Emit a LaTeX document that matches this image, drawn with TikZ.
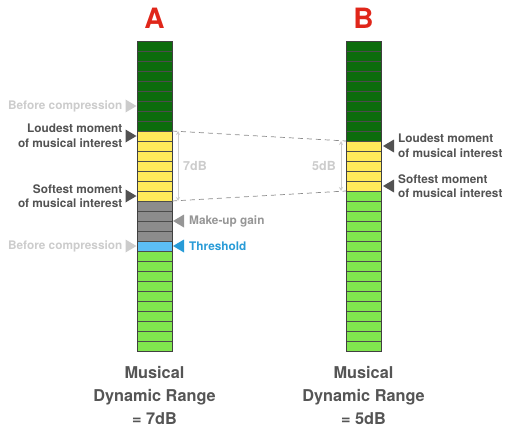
\documentclass[tikz,border=0pt]{standalone}
\usepackage{fontspec}
\setmainfont{TeX Gyre Heros}
\usetikzlibrary{arrows.meta,positioning,shapes.geometric,calc}

\definecolor{dkgreen}{RGB}{12,108,12}
\definecolor{ltgreen}{RGB}{128,230,78}
\definecolor{cellyellow}{RGB}{255,234,90}
\definecolor{cellgray}{RGB}{140,140,140}
\definecolor{cellblue}{RGB}{92,190,245}
\definecolor{labelgray}{RGB}{82,82,82}
\definecolor{palegray}{RGB}{204,204,204}
\definecolor{midgray}{RGB}{150,150,150}
\definecolor{threshblue}{RGB}{40,155,215}
\definecolor{titlered}{RGB}{224,38,26}
\definecolor{rangegray}{RGB}{85,85,85}

\begin{document}
\begin{tikzpicture}[x=1pt, y=-1pt,
  cell/.style={draw=black!70, line width=0.6pt, minimum width=35pt, minimum height=10pt, inner sep=0pt, outer sep=0pt, anchor=north west},
  tri/.style={isosceles triangle, isosceles triangle stretches, minimum width=13pt, minimum height=11pt, inner sep=0pt, outer sep=0pt, fill=labelgray},
  tril/.style={tri, shape border rotate=180},
  lbl/.style={font=\bfseries\fontsize{11.8}{14.5}\selectfont, text=labelgray, inner sep=0pt},
  titletxt/.style={font=\bfseries\fontsize{28}{28}\selectfont, text=titlered, inner sep=0pt},
  rangetxt/.style={font=\bfseries\fontsize{16.3}{23}\selectfont, text=rangegray, align=center, inner sep=0pt},
  guide/.style={draw=black!45, dash pattern=on 5pt off 4pt, line width=0.7pt},
  dim/.style={draw=palegray, line width=0.8pt, {Stealth[length=4pt,width=4pt]}-{Stealth[length=4pt,width=4pt]}},
  dimlbl/.style={font=\bfseries\fontsize{12.5}{12.5}\selectfont, text=palegray, inner sep=0pt}
]
\useasboundingbox (0,0) rectangle (513,433);

% bar A
\foreach \i in {0,...,8} \node[cell, fill=dkgreen] (a\i) at (137,{41+10*\i}) {};
\foreach \i in {9,...,15} \node[cell, fill=cellyellow] (a\i) at (137,{41+10*\i}) {};
\foreach \i in {16,...,19} \node[cell, fill=cellgray] (a\i) at (137,{41+10*\i}) {};
\node[cell, fill=cellblue] (a20) at (137,241) {};
\foreach \i in {21,...,30} \node[cell, fill=ltgreen] (a\i) at (137,{41+10*\i}) {};
\draw[black!75, line width=0.9pt] (a0.north west) rectangle (a30.south east);

% bar B
\foreach \i in {0,...,9} \node[cell, fill=dkgreen] (b\i) at (346,{41+10*\i}) {};
\foreach \i in {10,...,14} \node[cell, fill=cellyellow] (b\i) at (346,{41+10*\i}) {};
\foreach \i in {15,...,30} \node[cell, fill=ltgreen] (b\i) at (346,{41+10*\i}) {};
\draw[black!75, line width=0.9pt] (b0.north west) rectangle (b30.south east);

\node[titletxt, above=12pt of a0] (titleA) {A};
\node[titletxt, above=12pt of b0] (titleB) {B};

% markers left of A
\node[tri, fill=palegray, anchor=apex] (tBefTop) at ([xshift=-0.5pt]a6.west) {};
\node[lbl, text=palegray, left=3pt of tBefTop] (befTop) {Before compression};
\node[tri, anchor=apex] (tLoudA) at ([xshift=-0.5pt]a9.west) {};
\node[lbl, align=right, left=3pt of tLoudA] (loudA) {Loudest moment\\of musical interest};
\node[tri, anchor=apex] (tSoftA) at ([xshift=-0.5pt]a15.west) {};
\node[lbl, align=right, left=3pt of tSoftA] (softA) {Softest moment\\of musical interest};
\node[tri, fill=palegray, anchor=apex] (tBefLow) at ([xshift=-0.5pt]a20.west) {};
\node[lbl, text=palegray, left=3pt of tBefLow] (befLow) {Before compression};

% markers right of A
\node[tril, fill=midgray, anchor=apex] (tGain) at ([xshift=1pt]a17.south east) {};
\node[lbl, text=midgray, right=5pt of tGain] (gain) {Make-up gain};
\node[tril, fill=threshblue, anchor=apex] (tThr) at ([xshift=1pt]a20.east) {};
\node[lbl, text=threshblue, right=5pt of tThr] (thr) {Threshold};

% markers right of B
\node[tril, anchor=apex] (tLoudB) at ([xshift=2pt]b10.east) {};
\node[lbl, align=left, right=4pt of tLoudB] (loudB) {Loudest moment\\of musical interest};
\node[tril, anchor=apex] (tSoftB) at ([xshift=2pt]b14.east) {};
\node[lbl, align=left, right=4pt of tSoftB] (softB) {Softest moment\\of musical interest};

% range guides
\draw[guide] (a9.north east) -- (b10.north west);
\draw[guide] (a15.south east) -- (b14.south west);
\coordinate (dA1) at ([xshift=6pt]a9.north east);
\coordinate (dA2) at ([xshift=6pt]a15.south east);
\coordinate (dB1) at ([xshift=-5pt]b10.north west);
\coordinate (dB2) at ([xshift=-5pt]b14.south west);
\draw[dim] (dA1) -- (dA2);
\draw[dim] (dB1) -- (dB2);
\node[dimlbl, anchor=west] (dbA) at ([xshift=5pt]$(dA1)!0.5!(dA2)$) {7dB};
\node[dimlbl, anchor=east] (dbB) at ([xshift=-5pt]$(dB1)!0.5!(dB2)$) {5dB};

% totals
\node[rangetxt, below=15pt of a30] (rangeA) {Musical\\Dynamic Range\\= 7dB};
\node[rangetxt, below=15pt of b30] (rangeB) {Musical\\Dynamic Range\\= 5dB};
\end{tikzpicture}
\end{document}
